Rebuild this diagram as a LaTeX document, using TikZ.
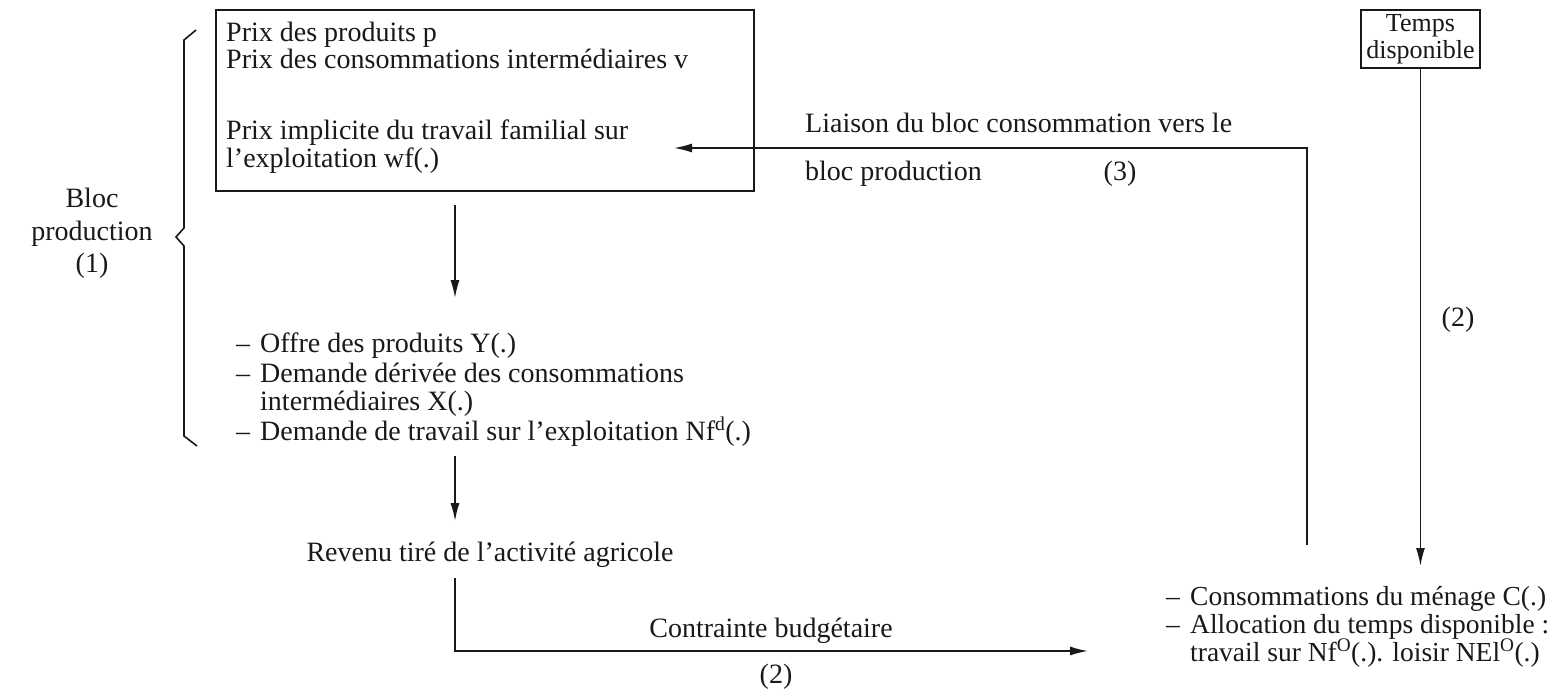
\documentclass[tikz,border=0pt]{standalone}
\usepackage{fontspec}
\setmainfont{Liberation Serif}
\usetikzlibrary{arrows.meta}
\definecolor{ink}{RGB}{25,25,25}
\begin{document}
\begin{tikzpicture}[x=1pt,y=-1pt,
  every node/.style={font=\fontsize{28}{30}\selectfont, inner sep=0pt, text=ink},
  txt/.style={anchor=base west},
  ctxt/.style={anchor=base},
  small/.style={font=\fontsize{27.5}{29}\selectfont},
  ln/.style={line width=1.6pt, draw=ink},
  arr/.style={ln, -{Latex[length=18pt,width=9pt]}},
  bx/.style={draw=ink, line width=1.9pt}]
\fill[white] (0,0) rectangle (1557,688);
\useasboundingbox (0,0) rectangle (1557,688);

% production box
\node[bx, minimum width=538pt, minimum height=181pt, anchor=north west] (box) at (215,9) {};
\node[txt] (p1) at (226,41) {Prix des produits p};
\node[txt] (p2) at (226,68) {Prix des consommations intermédiaires v};
\node[txt] (p3) at (226,139) {Prix implicite du travail familial sur};
\node[txt] (p4) at (226,167) {l'exploitation wf(.)};

% temps disponible
\node[bx, minimum width=119pt, minimum height=58pt, anchor=north west, align=center,
      font=\fontsize{26}{27}\selectfont] (temps) at (1360,9) {Temps\\disponible};

% bloc production label and brace
\node[ctxt] (bloc1) at (92,207) {Bloc};
\node[ctxt] (bloc2) at (92,240) {production};
\node[ctxt] (bloc3) at (92,272) {(1)};
\draw[ln, line join=miter] (196,30) -- (184,40) -- (184,228) -- (176,237) -- (184,246) -- (184,436) -- (197,446);

% arrow box -> list
\coordinate (a1s) at (455,205);
\coordinate (a1e) at (455,298);
\draw[arr] (a1s) -- (a1e);

% list of outputs
\node[txt] (d1) at (236,352) {–};
\node[txt] (o1) at (260,352) {Offre des produits Y(.)};
\node[txt] (d2) at (236,382) {–};
\node[txt] (o2) at (260,382) {Demande dérivée des consommations};
\node[txt] (o3) at (260,410) {intermédiaires X(.)};
\node[txt] (d4) at (236,440) {–};
\node[txt] (o4) at (260,440) {Demande de travail sur l'exploitation Nf\textsuperscript{d}(.)};

% arrow list -> revenu
\coordinate (a2s) at (455,456);
\coordinate (a2e) at (455,521);
\draw[arr] (a2s) -- (a2e);

\node[ctxt] (rev) at (490,561) {Revenu tiré de l'activité agricole};

% budget constraint
\coordinate (b1) at (455,578);
\coordinate (b2) at (455,651);
\coordinate (b3) at (1088,651);
\draw[arr] (b1) -- (b2) -- (b3);
\node[ctxt] (cb) at (771,637) {Contrainte budgétaire};
\node[ctxt] (cb2) at (776,683) {(2)};

% household block
\node[txt, small] (e1) at (1166,605) {–};
\node[txt, small] (h1) at (1190,605) {Consommations du ménage C(.)};
\node[txt, small] (e2) at (1166,633) {–};
\node[txt, small] (h2) at (1190,633) {Allocation du temps disponible :};
\node[txt, small] (h3) at (1190,661) {travail sur Nf\textsuperscript{O}(.). loisir NEl\textsuperscript{O}(.)};

% temps arrow
\coordinate (tend) at (temps.south |- 0,566);
\draw[arr] (temps.south) -- (tend);
\node[ctxt] (t2) at (1458,326) {(2)};

% liaison (3)
\coordinate (l1) at (1307,545);
\coordinate (l2) at (1307,148);
\coordinate (l3) at (674,148);
\draw[arr] (l1) -- (l2) -- (l3);
\node[txt] (li1) at (805,132) {Liaison du bloc consommation vers le};
\node[txt] (li2) at (805,180) {bloc production};
\node[ctxt] (li3) at (1120,180) {(3)};
\end{tikzpicture}
\end{document}
